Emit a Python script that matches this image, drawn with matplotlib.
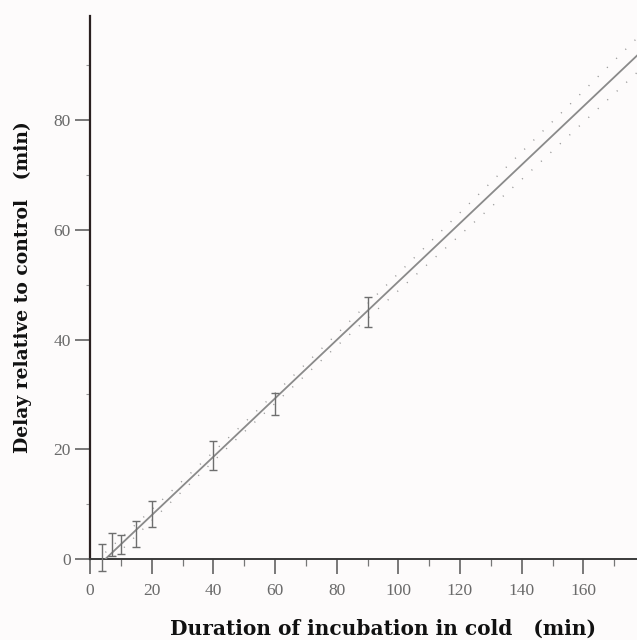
import matplotlib
matplotlib.use("Agg")
import matplotlib.pyplot as plt
from matplotlib.ticker import MultipleLocator

# ---- data ----
pt_x = [4, 7, 10, 15, 20, 40, 60, 90, 179]
pt_y = [0.3, 2.7, 2.7, 4.5, 8.2, 18.9, 28.3, 45.0, 94.9]
pt_err = [2.5, 2.1, 1.7, 2.4, 2.4, 2.7, 2.0, 2.7, 4.9]

fit_x = [5, 178]
fit_y = [0.0, 92.1]

band_x = [5, 20, 47, 80, 110, 140, 178]
band_upper = [1.2, 9.0, 23.2, 41.0, 57.6, 74.2, 95.3]
band_lower = [-1.2, 7.0, 21.6, 38.8, 54.0, 69.2, 89.0]

xticks = [0, 20, 40, 60, 80, 100, 120, 140, 160]
yticks = [0, 20, 40, 60, 80]

xlabel = "Duration of incubation in cold   (min)"
ylabel = "Delay relative to control   (min)"

# ---- figure ----
bg = "#fdfbfb"
fig = plt.figure(figsize=(6.37, 6.40), dpi=100, facecolor=bg)
ax = fig.add_axes([90 / 637, 81 / 640, 547 / 637, 543 / 640], facecolor=bg)

ax.set_xlim(0, 177.4)
ax.set_ylim(0, 99)

ax.plot(fit_x, fit_y, color="#8a8a8a", lw=1.3, zorder=3)
dot_style = dict(color="#9a9a9a", lw=1.0, linestyle=(0, (0.8, 8.5)), zorder=2)
ax.plot(band_x, band_upper, **dot_style)
ax.plot(band_x, band_lower, **dot_style)

ax.errorbar(pt_x, pt_y, yerr=pt_err, fmt="none", ecolor="#6e6e6e",
            elinewidth=1.0, capsize=3.0, capthick=1.0, zorder=4, clip_on=False)

for s in ["top", "right"]:
    ax.spines[s].set_visible(False)
ax.spines["left"].set_color("#2a2020")
ax.spines["left"].set_linewidth(1.6)
ax.spines["bottom"].set_color("#3a3a3a")
ax.spines["bottom"].set_linewidth(1.4)

ax.set_xticks(xticks)
ax.set_yticks(yticks)
ax.xaxis.set_minor_locator(MultipleLocator(10))
ax.yaxis.set_minor_locator(MultipleLocator(10))

ax.tick_params(axis="both", which="major", direction="out", length=11,
               width=1.1, color="#555555", labelcolor="#6a6a6a",
               labelsize=12.5)
ax.tick_params(axis="x", which="major", pad=6)
ax.tick_params(axis="y", which="major", pad=3)
ax.tick_params(axis="x", which="minor", direction="out", length=5,
               width=0.9, color="#777777")
ax.tick_params(axis="y", which="minor", direction="out", length=3,
               width=0.8, color="#999999")

for lab in ax.get_xticklabels() + ax.get_yticklabels():
    lab.set_family("Liberation Serif")

fig.text(383 / 637, 5 / 640, xlabel, ha="center", va="baseline",
         family="DejaVu Serif", fontweight="bold", fontsize=14.5,
         color="#111111")
fig.text(23 / 637, (640 - 287) / 640, ylabel, ha="center", va="center",
         rotation=90, family="DejaVu Serif", fontweight="bold",
         fontsize=13.5, color="#111111")

fig.savefig("out.png", dpi=100, facecolor=bg)
